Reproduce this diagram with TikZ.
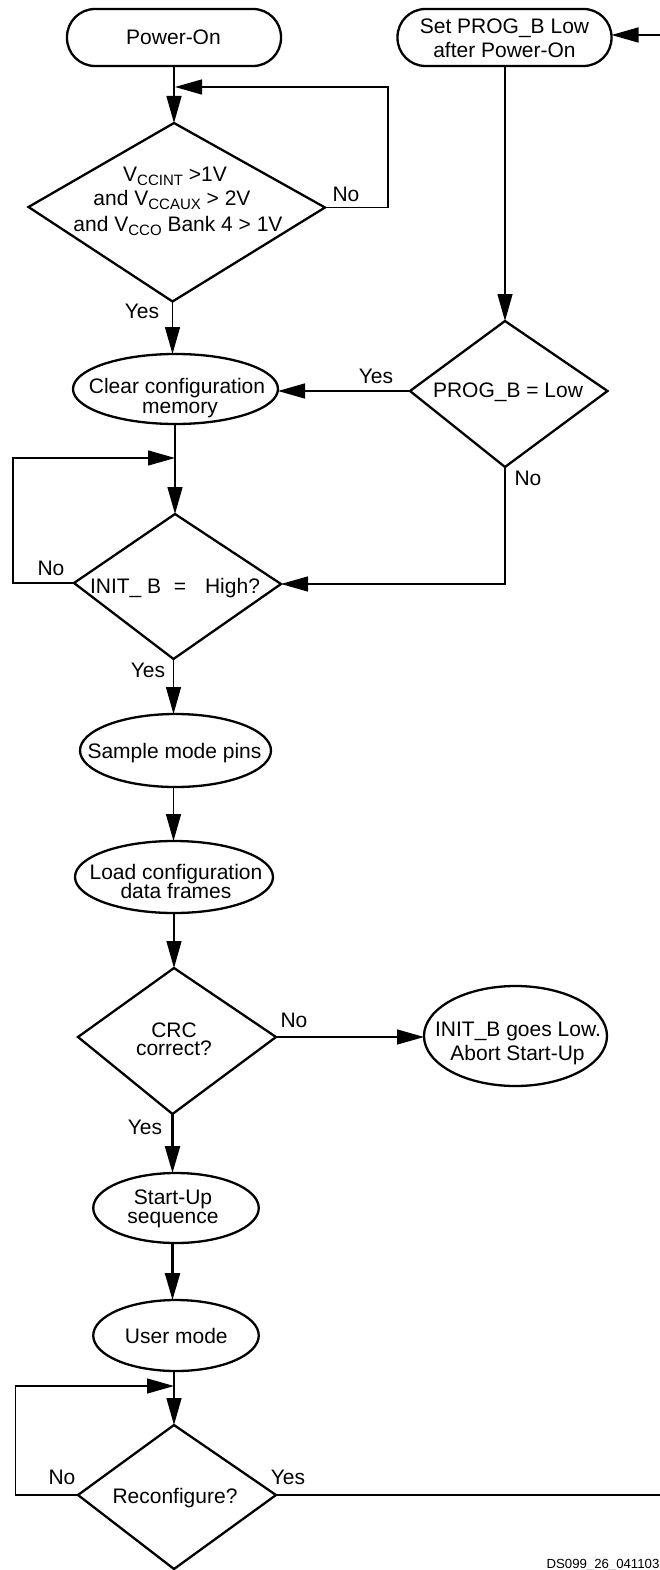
\documentclass[tikz,border=0pt]{standalone}
\usepackage{fontspec}
\setmainfont{Liberation Sans}
\usetikzlibrary{arrows.meta,shapes.geometric}
\newcommand{\tl}[3]{\makebox[0pt]{\hspace*{\dimexpr 2\dimexpr #1pt\relax\relax}\raisebox{\dimexpr -#2pt\relax}[0pt][0pt]{#3}}}
\newcommand{\sub}[1]{\raisebox{-3.5pt}{\fontsize{15}{15}\selectfont #1}}
\newcommand{\dia}[5]{%
  \coordinate (#1n) at (#2);\coordinate (#1e) at (#3);\coordinate (#1s) at (#4);\coordinate (#1w) at (#5);
  \draw[decisionline] (#1n)--(#1e)--(#1s)--(#1w)--cycle;}
\tikzset{
  x=1pt,y=-1pt,
  every node/.style={font=\fontsize{21}{24}\selectfont,inner sep=0pt,outer sep=0pt,text=black},
  startbox/.style={draw,line width=2.3pt,rounded corners=28pt,minimum width=214pt,minimum height=57pt},
  oval/.style={draw,ellipse,line width=2.3pt},
  decisionline/.style={line width=2.3pt,line join=miter},
  txt/.style={minimum size=0pt},
  lab/.style={anchor=base},
  conn/.style={line width=1.4pt,-{Triangle[length=27pt,width=15pt]}},
  boldconn/.style={line width=2.4pt,-{Triangle[length=27pt,width=15pt]}},
  plainconn/.style={line width=1.4pt}
}
\begin{document}
\begin{tikzpicture}
\useasboundingbox (0,0) rectangle (660,1570);
% terminators
\node[startbox] (pw) at (174,37.5) {\tl{-0.5}{7}{Power-On}};
\node[startbox] (prog) at (504.5,37.5) {\tl{0}{-4}{Set PROG\_B Low}\tl{0}{20}{after Power-On}};
% decisions
\dia{d1}{174,123}{325,207.5}{172.5,301.5}{28.5,207}
\node[txt] (d1t) at (175,207) {\tl{0}{-25}{V\sub{CCINT} >1V}\tl{-3}{-1}{and V\sub{CCAUX} > 2V}\tl{3}{25}{and V\sub{CCO} Bank 4 > 1V}};
\dia{d2}{505,321}{607.5,391}{505,467}{410,391}
\node[txt] (d2t) at (508,391) {\tl{0}{6}{PROG\_B = Low}};
\dia{d3}{175,514}{281,584}{173.5,659}{74,583}
\node[txt] (d3t) at (175,584) {\tl{0}{9}{INIT\_ B\hspace{12.6pt}=\hspace{19pt}High?}};
\dia{d4}{174,968}{276,1037}{172.5,1114}{78,1037}
\node[txt] (d4t) at (174,1037) {\tl{0}{0}{CRC}\tl{0}{18}{correct?}};
\dia{d5}{174,1425}{276,1495}{174,1569}{78,1495}
\node[txt] (d5t) at (175,1495) {\tl{0}{8}{Reconfigure?}};
% ovals
\node[oval,minimum width=205pt,minimum height=70pt] (clear) at (175.5,389) {\tl{1.5}{4}{Clear configuration}\tl{4.5}{24}{memory}};
\node[oval,minimum width=191pt,minimum height=73pt] (sample) at (175.5,750.5) {\tl{-1}{7.5}{Sample mode pins}};
\node[oval,minimum width=198pt,minimum height=72pt] (load) at (174,877) {\tl{2}{2}{Load configuration}\tl{2}{21}{data frames}};
\node[oval,minimum width=183pt,minimum height=100pt] (abort) at (515.5,1036) {\tl{2.5}{0}{INIT\_B goes Low.}\tl{2}{24}{Abort Start-Up}};
\node[oval,minimum width=165.5pt,minimum height=70pt] (startup) at (176,1208) {\tl{-3}{-3.5}{Start-Up}\tl{-3}{15.5}{sequence}};
\node[oval,minimum width=165.5pt,minimum height=71pt] (user) at (176,1335.5) {\tl{0.3}{7.5}{User mode}};
% labels
\node[lab] (ly1) at (142,318) {Yes};
\node[lab] (ln1) at (346,202) {No};
\node[lab] (ly2) at (376,383) {Yes};
\node[lab] (ln2) at (528,485.5) {No};
\node[lab] (ln3) at (51,575.5) {No};
\node[lab] (ly3) at (148,677.5) {Yes};
\node[lab] (ln4) at (294,1027) {No};
\node[lab] (ly4) at (145,1134) {Yes};
\node[lab] (ln5) at (62,1484) {No};
\node[lab] (ly5) at (288,1484) {Yes};
\node[lab,font=\fontsize{13.2}{15}\selectfont] (ds) at (603,1568) {DS099\_26\_041103};
% free coordinates
\coordinate (inR) at (660,35);
\coordinate (outR) at (660,1495);
\coordinate (j1) at (175,87);
\coordinate (c1) at (388,207.5);
\coordinate (j3) at (175,458);
\coordinate (c3) at (13,583);
\coordinate (c2) at (505,584);
\coordinate (j5) at (174,1386);
\coordinate (c5) at (15.5,1495);
% connectors
\draw[conn] (inR) -- (inR -| prog.east);
\draw[conn] (pw.south -| d1n) -- (d1n);
\draw[conn] (d1e) -- (c1) -- (c1 |- j1) -- (j1);
\draw[conn] (d1s) -- (d1s |- clear.north);
\draw[conn] (prog.south -| d2n) -- (d2n);
\draw[conn] (d2w) -- (d2w -| clear.east);
\draw[conn] (d2s) -- (c2) -- (d3e);
\draw[conn] (clear.south -| d3n) -- (d3n);
\draw[conn] (d3w) -- (c3) -- (c3 |- j3) -- (j3);
\draw[conn] (d3s) -- (d3s |- sample.north);
\draw[conn] (sample.south -| d3s) -- (d3s |- load.north);
\draw[conn] (load.south -| d4n) -- (d4n);
\draw[conn] (d4e) -- (d4e -| abort.west);
\draw[boldconn] (d4s) -- (d4s |- startup.north);
\draw[boldconn] (startup.south -| d4s) -- (d4s |- user.north);
\draw[conn] (user.south -| d5n) -- (d5n);
\draw[conn] (d5w) -- (c5) -- (c5 |- j5) -- (j5);
\draw[plainconn] (d5e) -- (outR);
\end{tikzpicture}
\end{document}
